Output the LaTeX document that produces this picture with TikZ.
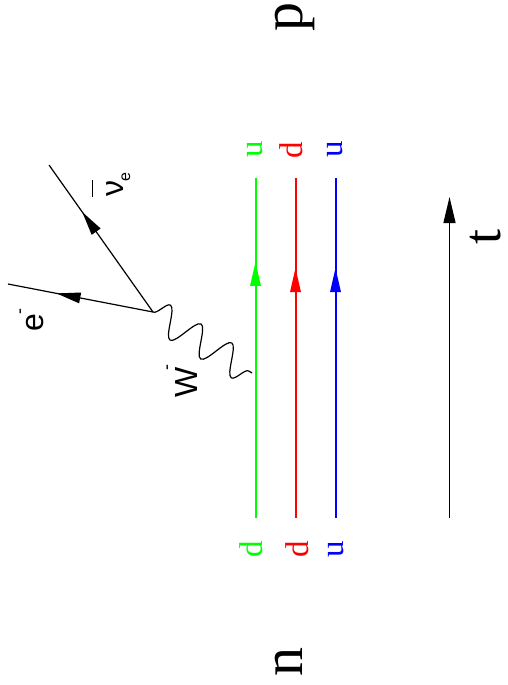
\documentclass[tikz,border=0pt]{standalone}
\usepackage{fontspec}
\setmainfont{Liberation Serif}
\newfontfamily\lsans{Liberation Sans}
\usetikzlibrary{arrows.meta,decorations.markings,decorations.pathmorphing}
\definecolor{qgreen}{rgb}{0,1,0}
\definecolor{qred}{rgb}{1,0,0}
\definecolor{qblue}{rgb}{0,0,1}
\begin{document}
\begin{tikzpicture}[x=1pt,y=-1pt,
  thinline/.style={line width=1.2pt},
  qline/.style={line width=2pt},
  qlabel/.style={rotate=90, anchor=base, inner sep=0pt, font=\fontsize{33}{33}\selectfont},
  biglabel/.style={rotate=90, anchor=base, inner sep=0pt, font=\fontsize{58}{58}\selectfont},
  slabel/.style={rotate=90, anchor=base, inner sep=0pt, font=\lsans\fontsize{32}{32}\selectfont},
  midarrow/.style={postaction={decorate}, decoration={markings,
      mark=at position #1 with {\fill (0pt,0pt) -- (-24pt,5.5pt) -- (-24pt,-5.5pt) -- cycle;}}},
  wboson/.style={decorate, decoration={snake, segment length=36pt, amplitude=15pt}}
]
\useasboundingbox (0,0) rectangle (508,685);

% quark lines
\coordinate (g1) at (255.5,518); \coordinate (g2) at (255.5,178);
\coordinate (r1) at (295.5,518); \coordinate (r2) at (295.5,178);
\coordinate (b1) at (335.5,518); \coordinate (b2) at (335.5,178);
\draw[qgreen, qline, midarrow=0.753] (g1) -- (g2);
\draw[qred, qline, midarrow=0.735] (r1) -- (r2);
\draw[qblue, qline, midarrow=0.735] (b1) -- (b2);

% quark labels
\node[qlabel, text=qgreen] (ugt) at (262,149) {u};
\node[qlabel, text=qred]   (drt) at (302,150) {d};
\node[qlabel, text=qblue]  (ubt) at (342,149) {u};
\node[qlabel, text=qgreen] (dgb) at (262,549) {d};
\node[qlabel, text=qred]   (drb) at (308,549) {d};
\node[qlabel, text=qblue]  (ubb) at (343,549) {u};

% big labels
\node[biglabel] (p) at (302,17.5) {p};
\node[biglabel] (n) at (302,661.5) {n};
\node[biglabel, font=\fontsize{54}{54}\selectfont] (t) at (500,236.5) {t};

% time arrow
\coordinate (t1) at (449.5,518); \coordinate (t2) at (449.5,197);
\draw[thinline, -{Triangle[length=26pt,width=12pt]}] (t1) -- (t2);

% leptons
\coordinate (V) at (153,312);
\coordinate (N) at (49,165);
\coordinate (E) at (8,284);
\coordinate (Wend) at (252,373);
\draw[color=black, thinline, midarrow=0.68] (V) -- (N);
\draw[color=black, thinline, midarrow=0.665] (V) -- (E);
\draw[thinline, wboson] (V) -- (Wend);

% lepton labels
\node[slabel] (elab) at (43,320) {e\raisebox{18pt}{\fontsize{18}{18}\selectfont -}};
\node[slabel] (wlab) at (197,381) {W\kern-4pt\raisebox{25pt}{\fontsize{18}{18}\selectfont -}};
\node[slabel] (nulab) at (123,185) {\rlap{\raisebox{30pt}{\rule{17pt}{1.5pt}}}ν\kern-1pt\raisebox{-7pt}{\fontsize{16}{16}\selectfont e}};
\end{tikzpicture}
\end{document}
